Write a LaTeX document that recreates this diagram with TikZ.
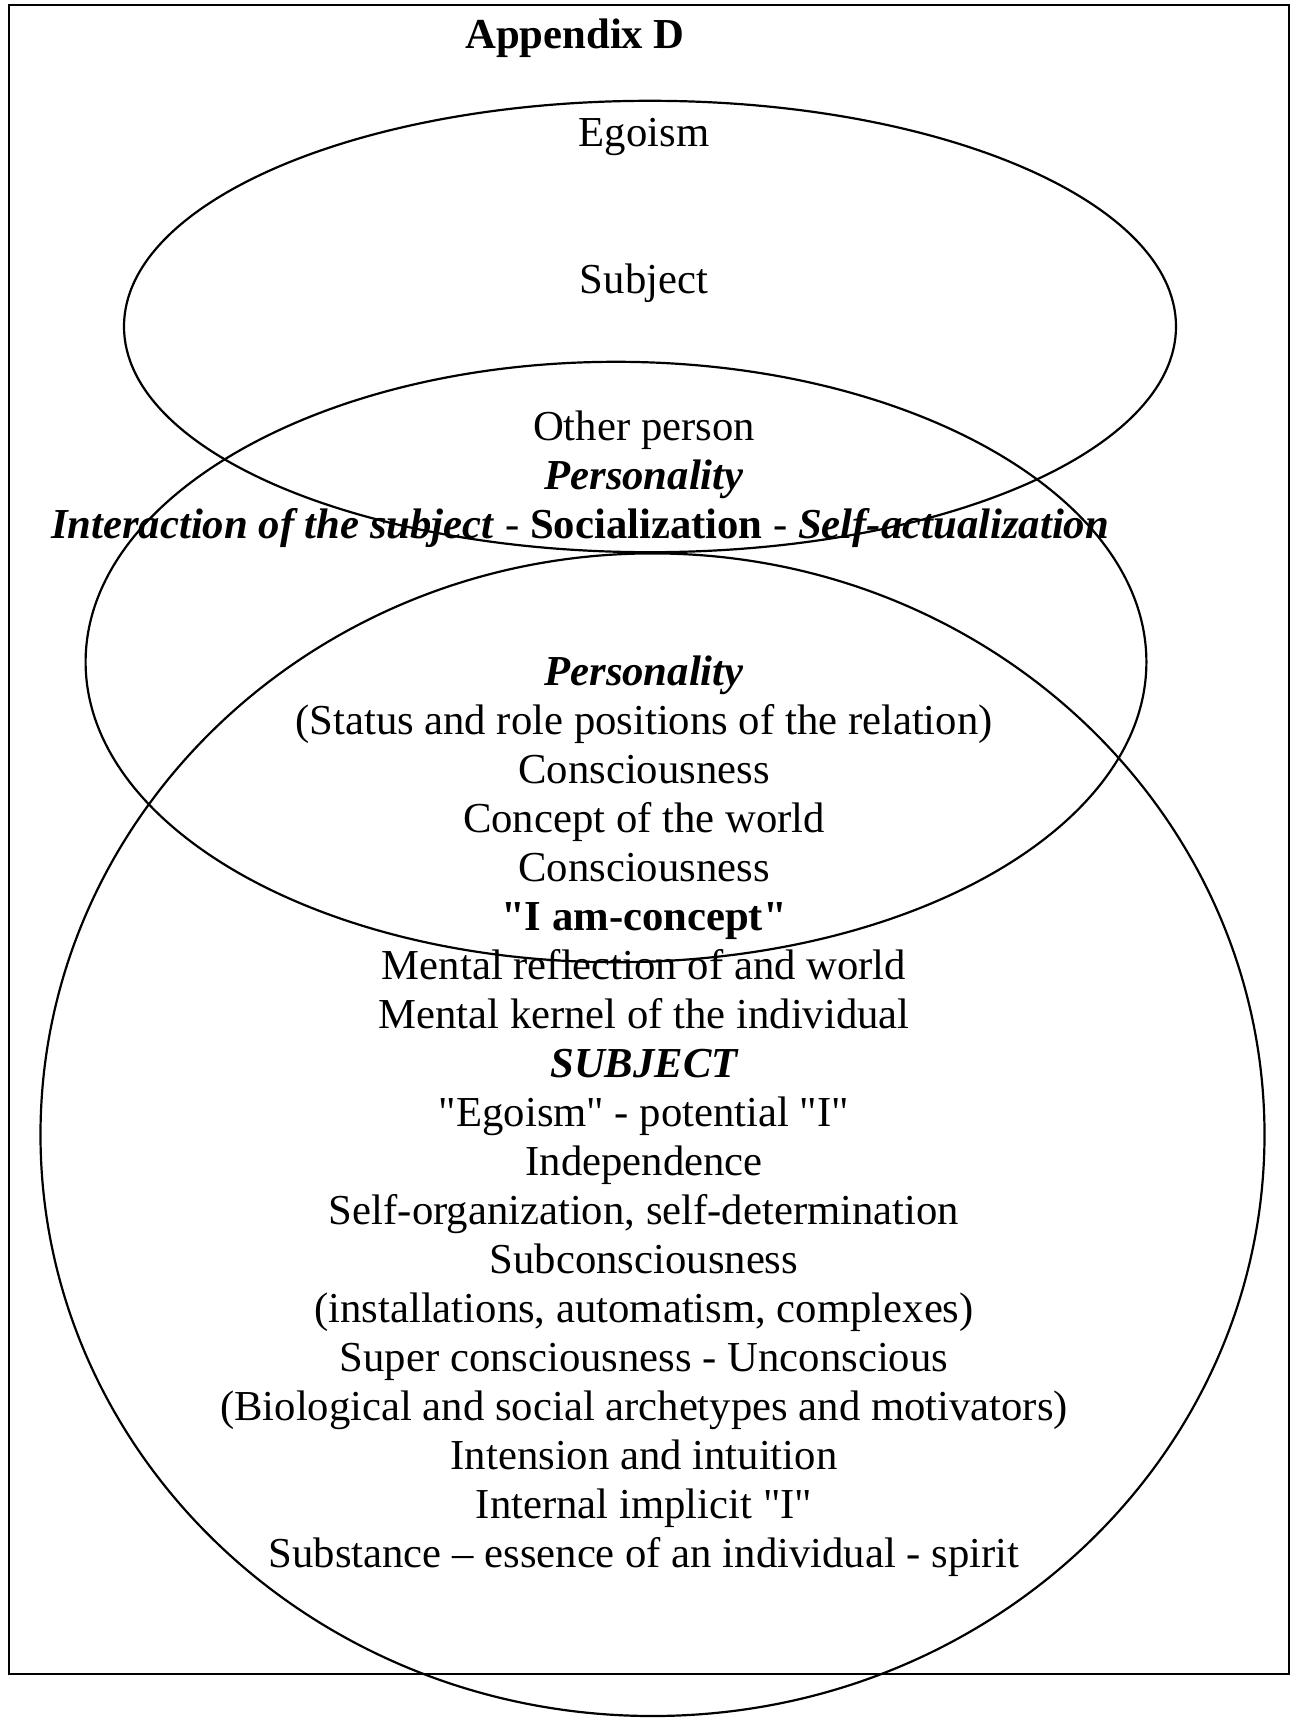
\documentclass[tikz,border=0pt]{standalone}
\usepackage{fontspec}
\setmainfont{Liberation Serif}[Ligatures=TeXOff]
\usepackage{tikz}

\begin{document}
\begin{tikzpicture}[x=0.5pt,y=-0.5pt,line width=1.1pt,
  txt/.style={anchor=base,inner sep=0pt,font=\fontsize{21.35}{24.5}\selectfont},
  bi/.style={txt,font=\fontsize{21.35}{24.5}\selectfont\bfseries\itshape}]
  \useasboundingbox (0,0) rectangle (1292,1718);

  % frame and the three ellipses
  \draw (9,5) rectangle (1289,1674);
  \draw (650,326.5) ellipse [x radius=526, y radius=225.7];
  \draw (616,662) ellipse [x radius=530.4, y radius=300.2];
  \draw (652.5,1134.7) ellipse [x radius=612, y radius=581.3];

  \node [txt,font=\fontsize{21.35}{24.5}\selectfont\bfseries] (title) at (575,49) {Appendix D};

  % upper ellipse
  \node [txt] (0) at (644,146.5) {Egoism};
  \node [txt] (3) at (644,293.5) {Subject};
  \node [txt] (6) at (644,440.5) {Other person};
  \node [bi] (7) at (644,489.5) {Personality};
  \node [txt] (8) at (580,538.5) {\textbf{\textit{Interaction of the subject}} - \textbf{Socialization} - \textbf{\textit{Self-actualization}}};

  % middle ellipse
  \node [bi] (11) at (644,685.5) {Personality};
  \node [txt] (12) at (644,734.5) {(Status and role positions of the relation)};
  \node [txt] (13) at (644,783.5) {Consciousness};
  \node [txt] (14) at (644,832.5) {Concept of the world};
  \node [txt] (15) at (644,881.5) {Consciousness};
  \node [txt,font=\fontsize{21.35}{24.5}\selectfont\bfseries] (16) at (644,930.5) {"I am-concept"};

  % lower ellipse
  \node [txt] (17) at (644,979.5) {Mental reflection of and world};
  \node [txt] (18) at (644,1028.5) {Mental kernel of the individual};
  \node [bi] (19) at (644,1077.5) {SUBJECT};
  \node [txt] (20) at (644,1126.5) {"Egoism" - potential "I"};
  \node [txt] (21) at (644,1175.5) {Independence};
  \node [txt] (22) at (644,1224.5) {Self-organization, self-determination};
  \node [txt] (23) at (644,1273.5) {Subconsciousness};
  \node [txt] (24) at (644,1322.5) {(installations, automatism, complexes)};
  \node [txt] (25) at (644,1371.5) {Super consciousness - Unconscious};
  \node [txt] (26) at (644,1420.5) {(Biological and social archetypes and motivators)};
  \node [txt] (27) at (644,1469.5) {Intension and intuition};
  \node [txt] (28) at (644,1518.5) {Internal implicit "I"};
  \node [txt] (29) at (644,1567.5) {Substance – essence of an individual - spirit};

\end{tikzpicture}
\end{document}
